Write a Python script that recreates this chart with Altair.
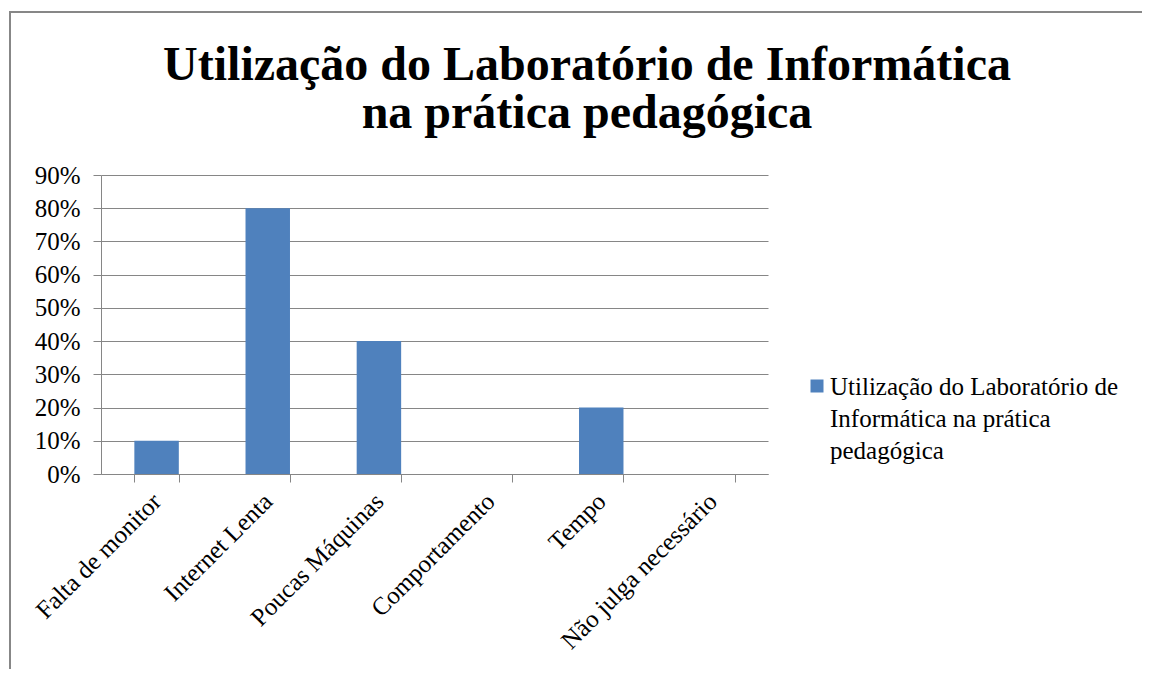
import altair as alt
import pandas as pd

CATEGORIES = ["Falta de monitor", "Internet Lenta", "Poucas Máquinas",
              "Comportamento", "Tempo", "Não julga necessário"]
VALUES = [0.10, 0.80, 0.40, 0.0, 0.20, 0.0]
SERIES = "Utilização do Laboratório de Informática na prática pedagógica"
TITLE_LINES = ["Utilização do Laboratório de Informática", "na prática pedagógica"]
LEGEND_LINES = ["Utilização do Laboratório de", "Informática na prática", "pedagógica"]
Y_TICKS = [0.0, 0.1, 0.2, 0.3, 0.4, 0.5, 0.6, 0.7, 0.8, 0.9]

FONT = "Liberation Serif"
BLUE = "#4F81BD"
GRAY = "#868686"

df = pd.DataFrame({"categoria": CATEGORIES, "valor": VALUES, "serie": SERIES})
one = pd.DataFrame({"serie": [SERIES]})

border = alt.Chart(one).mark_rect(fillOpacity=0, stroke="#878787", strokeWidth=2).encode(
    x=alt.value(-91), x2=alt.value(1100), y=alt.value(-163), y2=alt.value(560)
)

title = alt.Chart(one).mark_text(
    align="center", baseline="alphabetic", font=FONT, fontSize=48,
    fontWeight="bold", lineHeight=48, color="black"
).encode(
    x=alt.value(486), y=alt.value(-95), text=alt.value(TITLE_LINES)
)

bars = alt.Chart(df).mark_bar(color=BLUE).encode(
    x=alt.X("categoria:N", sort=CATEGORIES, title=None,
            scale=alt.Scale(paddingInner=0.6, paddingOuter=0.3),
            axis=alt.Axis(labelAngle=315, labelAlign="right", labelBaseline="middle",
                          labelPadding=15, labelLimit=400, tickBand="extent",
                          tickSize=8, tickColor=GRAY, domainColor=GRAY,
                          labelFont=FONT, labelFontSize=25, labelColor="black",
                          grid=False)),
    y=alt.Y("valor:Q", title=None,
            scale=alt.Scale(domain=[0, 0.9], nice=False),
            axis=alt.Axis(format=".0%", values=Y_TICKS, tickSize=8, tickColor=GRAY,
                          domainColor=GRAY, gridColor=GRAY, grid=True,
                          labelFont=FONT, labelFontSize=25, labelColor="black",
                          labelPadding=13)),
)

legend_square = alt.Chart(one).mark_square(size=169, color=BLUE, opacity=1).encode(
    x=alt.value(716), y=alt.value(211)
)
legend_text = alt.Chart(one).mark_text(
    align="left", baseline="top", font=FONT, fontSize=25, lineHeight=32, color="black"
).encode(
    x=alt.value(729), y=alt.value(200), text=alt.value(LEGEND_LINES)
)

chart = alt.layer(border, title, bars, legend_square, legend_text).properties(
    width=667,
    height=299,
    padding={"left": 93, "top": 167, "right": 374, "bottom": 195},
    autosize=alt.AutoSizeParams(type="none"),
).configure_view(strokeWidth=0)

chart.save("out.html", embed_options={"renderer": "svg", "actions": False})
